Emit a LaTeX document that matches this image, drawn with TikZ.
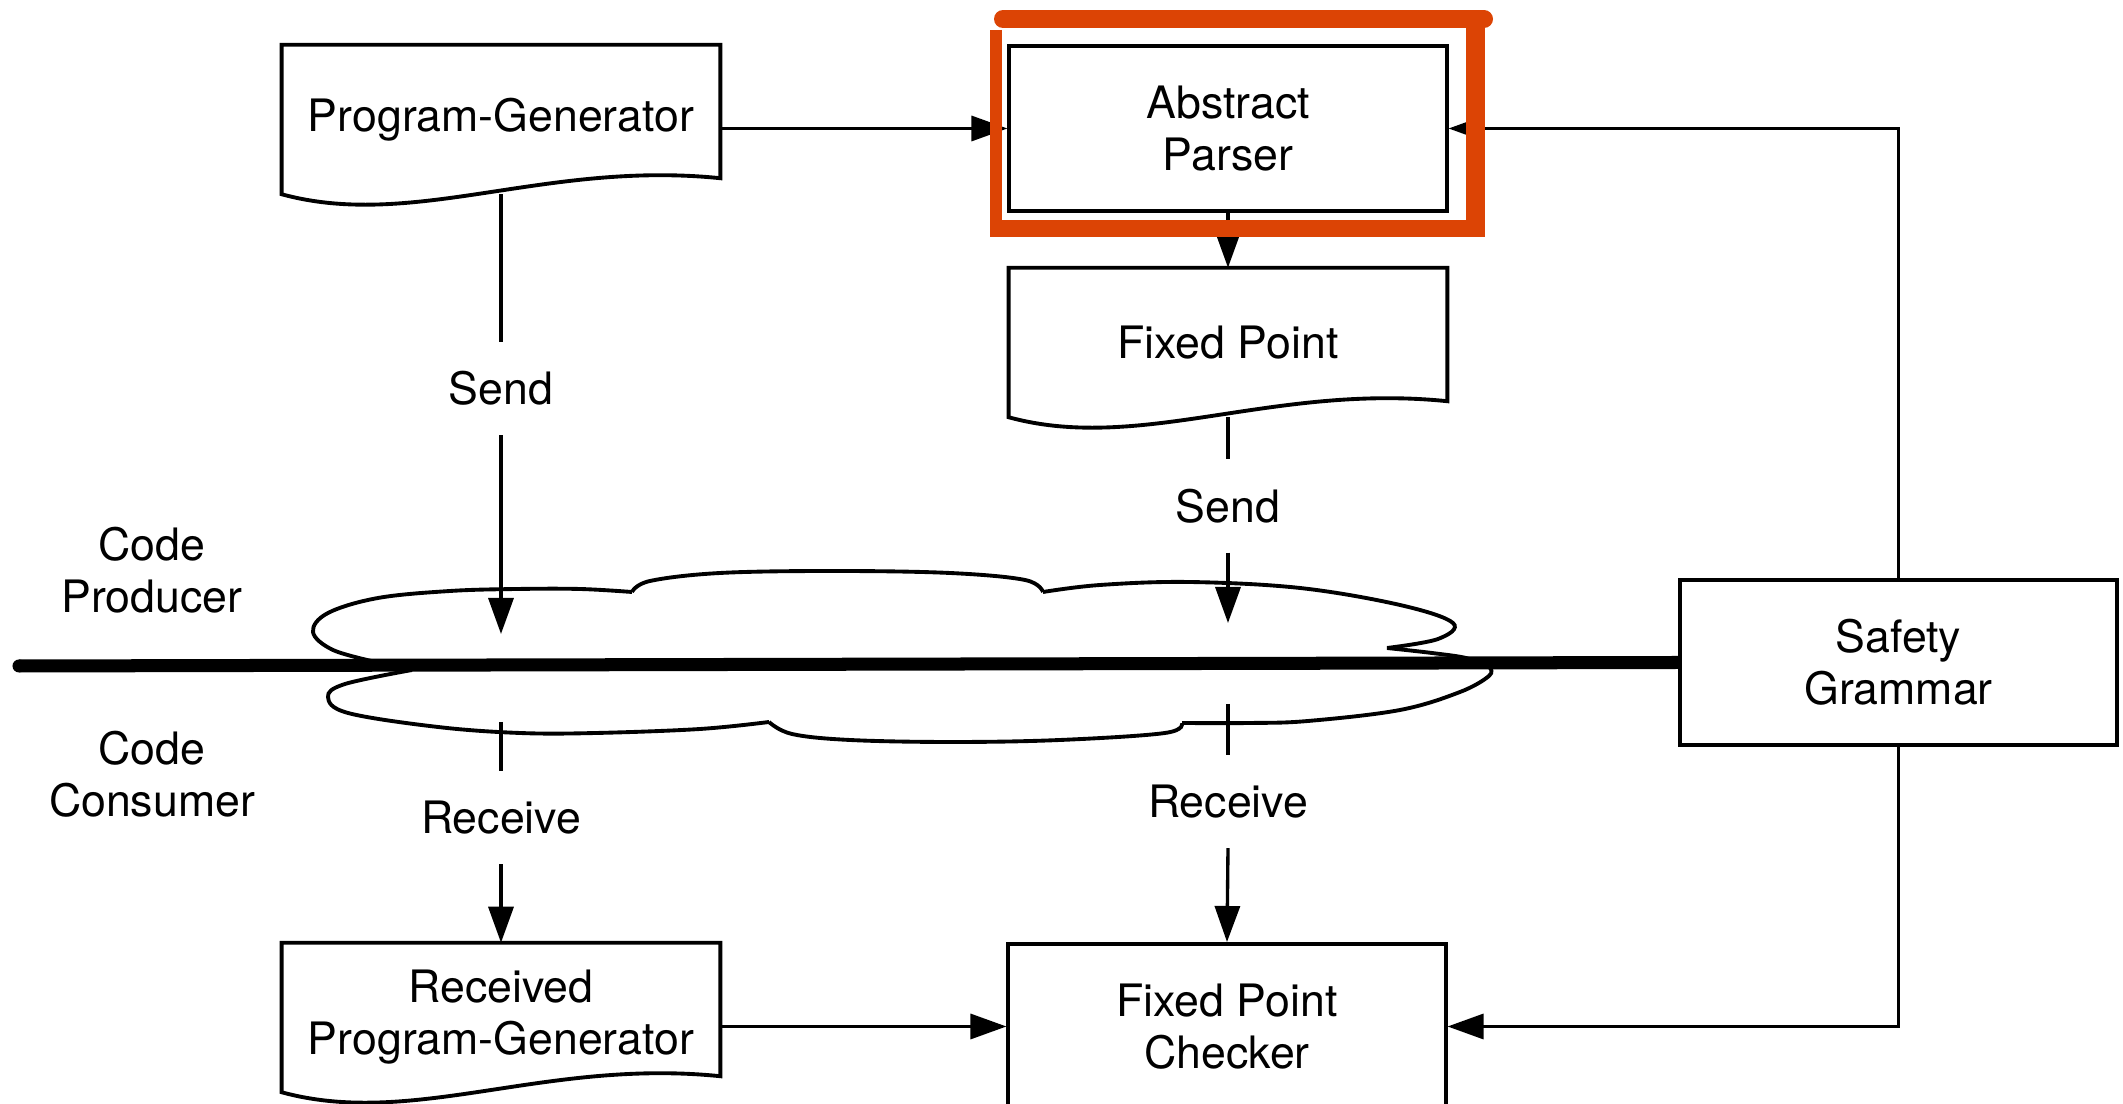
\documentclass[tikz,border=0pt]{standalone}
\usepackage{fontspec}
\setmainfont{TeX Gyre Heros}
\usetikzlibrary{arrows.meta,calc}
\definecolor{markred}{RGB}{220,68,5}

% document-shaped outline (wavy bottom edge) around a named node
\newcommand\docoutline[1]{%
  \draw[boxline] (#1.south west) -- (#1.north west) -- (#1.north east)
    -- ([yshift=0.16cm]#1.south east)
    .. controls ($(#1.south west)!0.6!(#1.south east)+(0,-34)$)
           and ($(#1.south west)!0.3!(#1.south east)+(0,36)$) .. (#1.south west) -- cycle;}

\begin{document}
\begin{tikzpicture}[x=0.01cm, y=-0.01cm,
  every node/.style={font=\fontsize{12.7}{14.8}\selectfont},
  boxline/.style={line width=1.1pt, line join=miter},
  box/.style={draw, boxline, minimum width=4.37cm, minimum height=1.65cm, align=center, inner sep=0pt},
  doc/.style={minimum width=4.37cm, minimum height=1.48cm, align=center, inner sep=0pt},
  edgelabel/.style={fill=white, minimum height=0.92cm, inner xsep=2pt, inner ysep=0pt},
  conn/.style={line width=0.95pt},
  arr/.style={conn, -{Triangle[length=0.36cm, width=0.25cm]}},
  cloudline/.style={line width=1.1pt},
  hand/.style={draw=markred, line cap=butt},
]
\useasboundingbox (0,0) rectangle (2123,1104);
\clip (0,0) rectangle (2123,1104);

% boxes and documents
\node[doc] (pg) at (501,119.5) {Program-Generator};
\node[box] (ap) at (1228,128.5) {Abstract\\Parser};
\node[doc] (fp) at (1228,342.5) {Fixed Point};
\node[box] (sg) at (1898.5,662.5) {Safety\\Grammar};
\node[doc] (rpg) at (501,1017.5) {Received\\Program-Generator};
\node[box] (fpc) at (1227,1026.5) {Fixed Point\\Checker};
\docoutline{pg}
\docoutline{fp}
\docoutline{rpg}

% side captions
\node[align=center] (prod) at (152,570.5) {Code\\Producer};
\node[align=center] (cons) at (152,774.5) {Code\\Consumer};

% network cloud, cut by the producer/consumer boundary
\draw[cloudline] plot[smooth, tension=0.6] coordinates {(376,662) (333,650) (313,632) (328,613) (378,598) (450,591) (517,589) (580,589) (632,592)};
\draw[cloudline] plot[smooth, tension=0.6] coordinates {(632,592) (650,581) (720,573) (834,571) (950,573) (1025,580) (1043,592)};
\draw[cloudline] plot[smooth, tension=0.6] coordinates {(1043,592) (1100,585) (1189,582) (1300,588) (1400,605) (1453,623) (1438,639) (1387,648)};
\draw[cloudline] plot[smooth, tension=0.6] coordinates {(1387,648) (1432,653) (1466,658) (1482,665)};
\draw[cloudline] plot[smooth, tension=0.6] coordinates {(412,670) (345,684) (328,697) (348,713) (438,727) (520,733) (596,733) (700,729) (769,722)};
\draw[cloudline] plot[smooth, tension=0.6] coordinates {(769,722) (792,734) (850,740) (952,742) (1060,740) (1165,733) (1182,723)};
\draw[cloudline] plot[smooth, tension=0.6] coordinates {(1182,723) (1250,723) (1308,721) (1400,710) (1460,692) (1489,676) (1490,668)};

% boundary line
\coordinate (lineL) at (19,666);
\draw[line width=0.13cm] (lineL) -- (sg.west);
\fill (lineL) circle (0.065cm);

% edge labels
\node[edgelabel] (send1) at (501,388.5) {Send};
\node[edgelabel] (send2) at (1228,506) {Send};
\node[edgelabel] (recv1) at (501,817.5) {Receive};
\node[edgelabel] (recv2) at (1228,801.5) {Receive};

% connector ends inside the cloud
\coordinate (in1) at (501,634);
\coordinate (in2) at (1228,623);
\coordinate (out1) at (501,722);
\coordinate (out2) at (1228,704);

% connectors
\draw[arr] (pg.east |- ap.west) -- (ap.west);
\draw[arr] (ap.south) -- (fp.north);
\draw[conn] (pg.south) -- (send1.north);
\draw[arr] (send1.south) -- (in1);
\draw[conn] (fp.south) -- (send2.north);
\draw[arr] (send2.south) -- (in2);
\draw[conn] (out1) -- (recv1.north);
\draw[arr] (recv1.south) -- (rpg.north);
\draw[conn] (out2) -- (recv2.north);
\draw[arr] (recv2.south) -- (fpc.north);
\draw[arr] (rpg.east |- fpc.west) -- (fpc.west);
\draw[arr] (sg.north) -- (sg.north |- ap.east) -- (ap.east);
\draw[arr] (sg.south) -- (sg.south |- fpc.east) -- (fpc.east);

% hand-drawn highlight around the parser
\draw[hand, line width=0.12cm] (996,30) -- (996,237);
\draw[hand, line width=0.18cm, line cap=round] (1003,19) -- (1484,19);
\draw[hand, line width=0.19cm] (1475,11) -- (1475,237);
\draw[hand, line width=0.17cm] (1484,228.5) -- (990,228.5);
\end{tikzpicture}
\end{document}
